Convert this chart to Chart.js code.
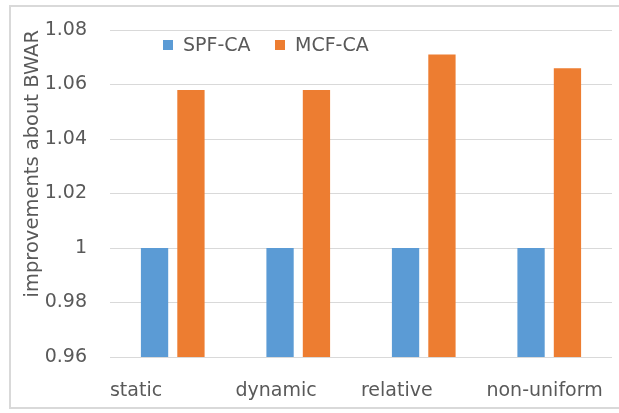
<!DOCTYPE html>
<html>
<head>
<meta charset="utf-8">
<script src="https://cdn.jsdelivr.net/npm/chart.js@4"></script>
<style>
html,body{margin:0;padding:0;background:#fff;}
#wrap{position:relative;width:619px;height:413px;}
</style>
</head>
<body>
<div id="wrap"><canvas id="c" width="619" height="413"></canvas></div>
<script>
const categories = ['static', 'dynamic', 'relative', 'non-uniform'];
const spfValues = [1.0, 1.0, 1.0, 1.0];
const mcfValues = [1.058, 1.058, 1.071, 1.066];
const seriesNames = ['SPF-CA', 'MCF-CA'];
const yTicks = [0.96, 0.98, 1, 1.02, 1.04, 1.06, 1.08];

const FONT = "'DejaVu Sans', sans-serif";
const GRAY = '#595959';

const frame = {
  id: 'frame',
  beforeDraw(chart) {
    const ctx = chart.ctx;
    ctx.save();
    ctx.fillStyle = '#fff';
    ctx.fillRect(0, 0, chart.width, chart.height);
    ctx.strokeStyle = '#d9d9d9';
    ctx.lineWidth = 2;
    ctx.strokeRect(10, 6, chart.width + 10, 402);
    ctx.restore();
  }
};

const customLegend = {
  id: 'customLegend',
  afterDraw(chart) {
    const ctx = chart.ctx;
    const items = chart.data.datasets;
    const xs = [163, 275];
    ctx.save();
    ctx.font = '19px ' + FONT;
    ctx.textBaseline = 'middle';
    ctx.textAlign = 'left';
    items.forEach((ds, i) => {
      ctx.fillStyle = ds.backgroundColor;
      ctx.fillRect(xs[i], 40, 10, 10);
      ctx.fillStyle = GRAY;
      ctx.fillText(ds.label, xs[i] + 20, 46);
    });
    ctx.restore();
  }
};

new Chart(document.getElementById('c'), {
  type: 'bar',
  data: {
    labels: categories,
    datasets: [
      { label: seriesNames[0], data: spfValues, backgroundColor: '#5b9bd5', barPercentage: 0.75, categoryPercentage: 0.58 },
      { label: seriesNames[1], data: mcfValues, backgroundColor: '#ed7d31', barPercentage: 0.75, categoryPercentage: 0.58 }
    ]
  },
  options: {
    responsive: false,
    animation: false,
    layout: { padding: { left: 0, right: 7, top: 30, bottom: 0 } },
    plugins: {
      legend: { display: false },
      tooltip: { enabled: false }
    },
    scales: {
      x: {
        grid: { display: false, drawTicks: false },
        border: { display: false },
        ticks: {
          color: GRAY,
          font: { family: FONT, size: 19 },
          padding: 23,
          align: 'start',
          labelOffset: -62.8,
          maxRotation: 0,
          autoSkip: false
        },
        afterFit(axis) { axis.height = 56; axis.paddingLeft = 0; axis.paddingRight = 0; }
      },
      y: {
        min: 0.96,
        max: 1.08,
        afterBuildTicks(axis) { axis.ticks = yTicks.map(v => ({ value: v })); },
        grid: { color: '#d9d9d9', drawTicks: false, lineWidth: 1 },
        border: { display: false },
        ticks: {
          color: GRAY,
          font: { family: FONT, size: 19 },
          padding: 23,
          callback: (v) => String(Math.round(v * 100) / 100)
        },
        title: {
          display: true,
          text: 'improvements about BWAR',
          color: GRAY,
          align: 'end',
          font: { family: FONT, size: 19.5 },
          padding: { top: 21, bottom: 0 }
        },
        afterFit(axis) { axis.width = 110; axis.paddingTop = 0; axis.paddingBottom = 0; }
      }
    }
  },
  plugins: [frame, customLegend]
});
</script>
</body>
</html>
